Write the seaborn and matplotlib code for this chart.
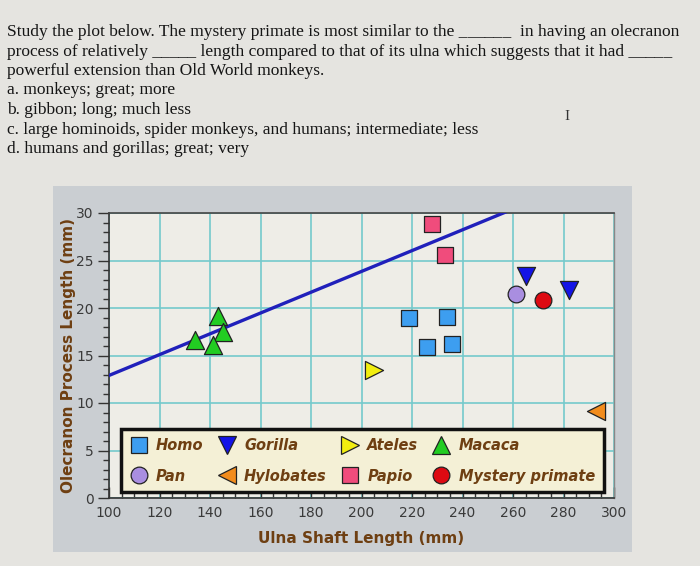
import matplotlib
matplotlib.use("Agg")
import matplotlib.pyplot as plt
from matplotlib.patches import Rectangle
from matplotlib.lines import Line2D
from matplotlib.ticker import MultipleLocator
import seaborn as sns
import pandas as pd

# ---- data ----
homo_x = [219, 234, 226, 236]
homo_y = [18.9, 19.1, 15.9, 16.2]
gorilla_x = [265, 282]
gorilla_y = [23.4, 21.9]
ateles_x = [205]
ateles_y = [13.5]
macaca_x = [143, 145, 134, 141]
macaca_y = [19.2, 17.5, 16.6, 16.1]
pan_x = [261]
pan_y = [21.5]
hylobates_x = [293]
hylobates_y = [9.2]
papio_x = [228, 233]
papio_y = [28.8, 25.6]
mystery_x = [272]
mystery_y = [20.8]
line_x = [100, 300]
line_y = [12.9, 34.8]

question = [
    "Study the plot below. The mystery primate is most similar to the ______  in having an olecranon",
    "process of relatively _____ length compared to that of its ulna which suggests that it had _____",
    "powerful extension than Old World monkeys.",
    "a. monkeys; great; more",
    "b. gibbon; long; much less",
    "c. large hominoids, spider monkeys, and humans; intermediate; less",
    "d. humans and gorillas; great; very",
]

genera = ["Homo", "Gorilla", "Ateles", "Macaca", "Pan", "Hylobates", "Papio", "Mystery primate"]
xs = [homo_x, gorilla_x, ateles_x, macaca_x, pan_x, hylobates_x, papio_x, mystery_x]
ys = [homo_y, gorilla_y, ateles_y, macaca_y, pan_y, hylobates_y, papio_y, mystery_y]

rows = []
for g, xx, yy in zip(genera, xs, ys):
    for a, b in zip(xx, yy):
        rows.append({"ulna": a, "olecranon": b, "genus": g})
df = pd.DataFrame(rows)

colors = {"Homo": "#3d9ef0", "Gorilla": "#1414e6", "Ateles": "#f2ee10", "Macaca": "#22cc22",
          "Pan": "#a98ee0", "Hylobates": "#f28c1c", "Papio": "#f04c7c", "Mystery primate": "#dd0a12"}
markers = {"Homo": "s", "Gorilla": "v", "Ateles": ">", "Macaca": "^",
           "Pan": "o", "Hylobates": "<", "Papio": "s", "Mystery primate": "o"}
sizes = {"s": 125, "v": 170, ">": 170, "^": 170, "o": 145, "<": 170}

sns.set_style("white")
plt.rcParams["font.family"] = ["DejaVu Sans"]

fig = plt.figure(figsize=(7.0, 5.66), dpi=100)
fig.patch.set_facecolor("#e5e4e0")

# grey panel behind the chart
fig.patches.append(Rectangle((53 / 700, 1 - 552 / 566), (632 - 53) / 700, (552 - 186) / 566,
                             transform=fig.transFigure, facecolor="#caced2", edgecolor="none", zorder=-5))

# question text
for i, line in enumerate(question):
    fig.text(7 / 700, 1 - (32 + 19.5 * i) / 566, line, family="Liberation Serif", fontsize=12.5,
             color="#151515", va="center", ha="left")
fig.text(567 / 700, 1 - 116 / 566, "I", family="Liberation Serif", fontsize=11, color="#333333",
         va="center", ha="center")

ax = fig.add_axes([109 / 700, 1 - 498 / 566, 505 / 700, 285 / 566])
ax.set_zorder(2)
ax.set_facecolor("#eeede7")

brown = "#6e3f12"
for g in genera:
    sub = df[df["genus"] == g]
    m = markers[g]
    sns.scatterplot(data=sub, x="ulna", y="olecranon", ax=ax, color=colors[g], marker=m,
                    s=sizes[m], edgecolor="#222222", linewidth=0.9, zorder=4, legend=False)

ax.plot(line_x, line_y, color="#2020bb", lw=2.4, zorder=3)

ax.set_xlim(100, 300)
ax.set_ylim(0, 30)
ax.xaxis.set_major_locator(MultipleLocator(20))
ax.xaxis.set_minor_locator(MultipleLocator(5))
ax.yaxis.set_major_locator(MultipleLocator(5))
ax.yaxis.set_minor_locator(MultipleLocator(1))
ax.grid(True, which="major", color="#74cacc", lw=1.2, zorder=1)
ax.set_axisbelow(True)

ax.tick_params(axis="x", which="major", direction="in", length=8, width=1, color="#333333",
               labelsize=10, labelcolor="#3a3a3a", pad=6, bottom=True)
ax.tick_params(axis="x", which="minor", direction="in", length=5, width=1, color="#333333", bottom=True)
ax.tick_params(axis="y", which="major", direction="out", length=8, width=1, color="#333333",
               labelsize=10, labelcolor="#3a3a3a", pad=3, left=True)
ax.tick_params(axis="y", which="minor", direction="out", length=4, width=1, color="#333333", left=True)

for side in ["left", "bottom"]:
    ax.spines[side].set_color("#333333")
    ax.spines[side].set_linewidth(1.2)
ax.spines["top"].set_color("#444444")
ax.spines["top"].set_linewidth(1.2)
ax.spines["right"].set_color("#888888")
ax.spines["right"].set_linewidth(1.0)

ax.set_xlabel("Ulna Shaft Length (mm)", fontsize=11, fontweight="bold", color=brown, labelpad=8)
ax.set_ylabel("Olecranon Process Length (mm)", fontsize=11, fontweight="bold", color=brown, labelpad=0)

# legend: row 1 Homo Gorilla Ateles Macaca, row 2 Pan Hylobates Papio Mystery primate
order = ["Homo", "Pan", "Gorilla", "Hylobates", "Ateles", "Papio", "Macaca", "Mystery primate"]
handles = [Line2D([], [], linestyle="none", marker=markers[g], markersize=sizes[markers[g]] ** 0.5,
                  markerfacecolor=colors[g], markeredgecolor="#222222", markeredgewidth=0.9)
           for g in order]
leg = ax.legend(handles, order, ncol=4, loc="lower left", bbox_to_anchor=(0.024, 0.02, 0.956, 0.23),
                mode="expand", frameon=True, fancybox=False, framealpha=1, borderaxespad=0,
                facecolor="#f4f0d6", edgecolor="#111111", handletextpad=0.6, labelspacing=1.07,
                borderpad=0.6, columnspacing=0.4, handlelength=1.2,
                prop={"weight": "bold", "style": "italic", "size": 10.5})
leg.get_frame().set_linewidth(2.5)
leg.set_zorder(6)
for t in leg.get_texts():
    t.set_color(brown)

fig.savefig("out.png", dpi=100, facecolor=fig.get_facecolor())
